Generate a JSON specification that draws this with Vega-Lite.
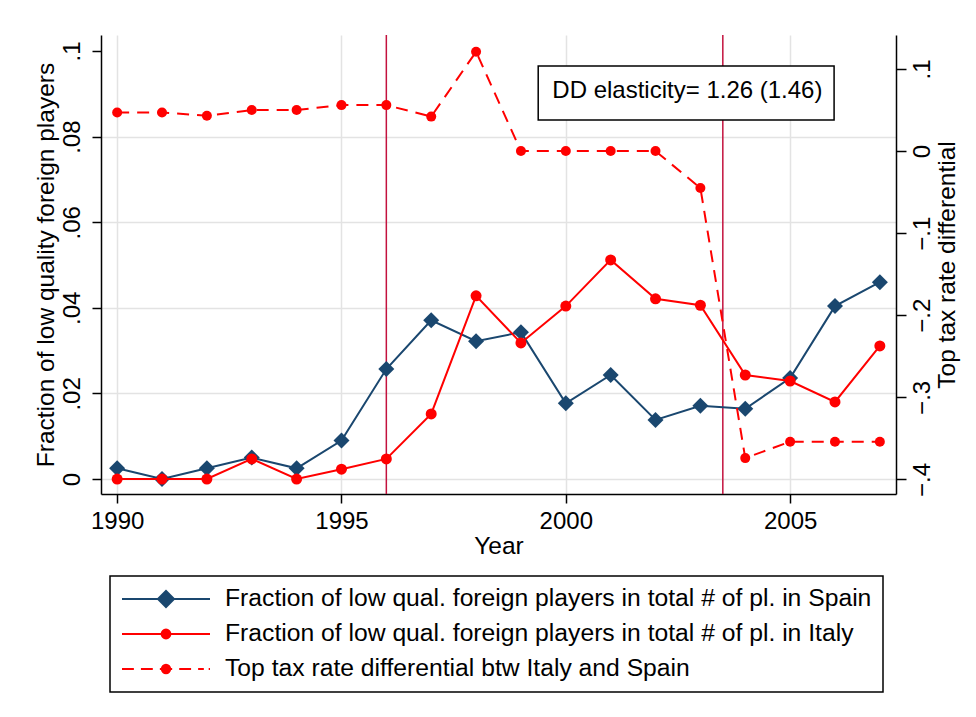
{
  "$schema": "https://vega.github.io/schema/vega-lite/v6.json",
  "width": 795,
  "height": 459,
  "autosize": {"type": "none"},
  "padding": {"left": 101, "top": 35, "right": 80, "bottom": 223},
  "background": "white",
  "config": {
    "view": {"stroke": null},
    "font": "Liberation Sans",
    "axis": {
      "domainColor": "#000", "domainWidth": 1.5, "tickColor": "#000", "tickWidth": 1.5,
      "labelColor": "#000", "labelFont": "Liberation Sans", "labelFontSize": 24,
      "titleFont": "Liberation Sans", "titleFontSize": 24.5, "titleFontWeight": "normal", "titleColor": "#000",
      "gridColor": "#e3e3e3", "gridWidth": 1.5, "labelFlush": false, "labelOverlap": false
    },
    "legend": {
      "labelFont": "Liberation Sans", "labelFontSize": 24.7, "labelColor": "#000", "labelLimit": 1000,
      "labelOffset": 14, "symbolStrokeWidth": 2, "clipHeight": 24, "rowPadding": 10, "padding": 11,
      "strokeColor": "#000", "strokeWidth": 1.5, "fillColor": "white", "symbolSize": 7744, "symbolOpacity": 1
    }
  },
  "datasets": {
    "events": [{"x": 1996}, {"x": 2003.5}],
    "box": [{"x": 1999.385, "x2": 2005.98, "y": 0.0965, "y2": 0.0839}],
    "note": [{"x": 1999.7, "y": 0.089, "label": "DD elasticity= 1.26 (1.46)"}],
    "fractions": [
      {"x": 1990, "country": "Spain", "y": 0.0025},
      {"x": 1991, "country": "Spain", "y": 0.0},
      {"x": 1992, "country": "Spain", "y": 0.0025},
      {"x": 1993, "country": "Spain", "y": 0.005},
      {"x": 1994, "country": "Spain", "y": 0.0025},
      {"x": 1995, "country": "Spain", "y": 0.009},
      {"x": 1996, "country": "Spain", "y": 0.0257},
      {"x": 1997, "country": "Spain", "y": 0.0371},
      {"x": 1998, "country": "Spain", "y": 0.0322},
      {"x": 1999, "country": "Spain", "y": 0.0343},
      {"x": 2000, "country": "Spain", "y": 0.0177},
      {"x": 2001, "country": "Spain", "y": 0.0243},
      {"x": 2002, "country": "Spain", "y": 0.0138},
      {"x": 2003, "country": "Spain", "y": 0.0171},
      {"x": 2004, "country": "Spain", "y": 0.0164},
      {"x": 2005, "country": "Spain", "y": 0.0236},
      {"x": 2006, "country": "Spain", "y": 0.0404},
      {"x": 2007, "country": "Spain", "y": 0.046},
      {"x": 1990, "country": "Italy", "y": 0.0},
      {"x": 1991, "country": "Italy", "y": 0.0},
      {"x": 1992, "country": "Italy", "y": 0.0},
      {"x": 1993, "country": "Italy", "y": 0.0047},
      {"x": 1994, "country": "Italy", "y": 0.0},
      {"x": 1995, "country": "Italy", "y": 0.0023},
      {"x": 1996, "country": "Italy", "y": 0.0047},
      {"x": 1997, "country": "Italy", "y": 0.0152},
      {"x": 1998, "country": "Italy", "y": 0.0428},
      {"x": 1999, "country": "Italy", "y": 0.0318},
      {"x": 2000, "country": "Italy", "y": 0.0404},
      {"x": 2001, "country": "Italy", "y": 0.0512},
      {"x": 2002, "country": "Italy", "y": 0.0421},
      {"x": 2003, "country": "Italy", "y": 0.0406},
      {"x": 2004, "country": "Italy", "y": 0.0243},
      {"x": 2005, "country": "Italy", "y": 0.0229},
      {"x": 2006, "country": "Italy", "y": 0.018},
      {"x": 2007, "country": "Italy", "y": 0.0311}
    ],
    "tax": [
      {"x": 1990, "t": 0.047}, {"x": 1991, "t": 0.047}, {"x": 1992, "t": 0.043},
      {"x": 1993, "t": 0.05}, {"x": 1994, "t": 0.05}, {"x": 1995, "t": 0.056},
      {"x": 1996, "t": 0.056}, {"x": 1997, "t": 0.042}, {"x": 1998, "t": 0.121},
      {"x": 1999, "t": 0.0}, {"x": 2000, "t": 0.0}, {"x": 2001, "t": 0.0},
      {"x": 2002, "t": 0.0}, {"x": 2003, "t": -0.045}, {"x": 2004, "t": -0.374},
      {"x": 2005, "t": -0.354}, {"x": 2006, "t": -0.354}, {"x": 2007, "t": -0.354}
    ],
    "keys": [
      {"series": "Fraction of low qual. foreign players in total # of pl. in Spain"},
      {"series": "Fraction of low qual. foreign players in total # of pl. in Italy"},
      {"series": "Top tax rate differential btw Italy and Spain"}
    ]
  },
  "encoding": {
    "x": {
      "field": "x", "type": "quantitative",
      "scale": {"domain": [1989.64, 2007.36], "nice": false, "zero": false},
      "axis": {
        "values": [1990, 1995, 2000, 2005], "format": "d", "grid": true, "tickSize": 9, "labelPadding": 6,
        "title": "Year", "titleBaseline": "top", "titleY": 40, "titleAlign": "center"
      }
    }
  },
  "layer": [
    {
      "data": {"name": "events"},
      "mark": {"type": "rule", "color": "#c3123e", "strokeWidth": 1.5},
      "encoding": {}
    },
    {
      "data": {"name": "fractions"},
      "encoding": {
        "y": {
          "field": "y", "type": "quantitative",
          "scale": {"domain": [-0.0035, 0.10374], "nice": false, "zero": false},
          "axis": {
            "orient": "left", "values": [0, 0.02, 0.04, 0.06, 0.08, 0.1],
            "labelExpr": "datum.value == 0 ? '0' : substring(format(datum.value, '.2~f'), 1)",
            "labelAngle": -90, "labelAlign": "center", "labelBaseline": "bottom", "labelPadding": 8, "tickSize": 9,
            "grid": true, "gridOpacity": {"condition": {"test": "datum.value > 0.09", "value": 0}, "value": 1},
            "title": "Fraction of low quality foreign players", "titleAngle": -90, "titleAlign": "center",
            "titleBaseline": "bottom", "titleX": -43, "titleY": 229.5
          }
        }
      },
      "layer": [
        {
          "data": {"name": "box"},
          "mark": {"type": "rect", "fill": "white", "stroke": "#000", "strokeWidth": 1.5},
          "encoding": {"x2": {"field": "x2"}, "y2": {"field": "y2"}}
        },
        {
          "data": {"name": "note"},
          "mark": {"type": "text", "align": "left", "baseline": "alphabetic", "fontSize": 24, "font": "Liberation Sans", "color": "#000"},
          "encoding": {"text": {"field": "label"}}
        },
        {
          "transform": [{"filter": "datum.country == 'Spain'"}],
          "mark": {"type": "line", "color": "#1a476f", "strokeWidth": 2},
          "encoding": {}
        },
        {
          "transform": [{"filter": "datum.country == 'Spain'"}],
          "mark": {"type": "point", "shape": "diamond", "filled": true, "color": "#1a476f", "size": 256, "opacity": 1},
          "encoding": {}
        },
        {
          "transform": [{"filter": "datum.country == 'Italy'"}],
          "mark": {"type": "line", "color": "#ff0000", "strokeWidth": 2},
          "encoding": {}
        },
        {
          "transform": [{"filter": "datum.country == 'Italy'"}],
          "mark": {"type": "point", "shape": "circle", "filled": true, "color": "#ff0000", "size": 121, "opacity": 1},
          "encoding": {}
        }
      ]
    },
    {
      "data": {"name": "tax"},
      "encoding": {
        "y": {
          "field": "t", "type": "quantitative",
          "scale": {"domain": [-0.4177, 0.1414], "nice": false, "zero": false},
          "axis": {
            "orient": "right", "values": [-0.4, -0.3, -0.2, -0.1, 0, 0.1],
            "labelExpr": "datum.value == 0 ? '0' : (datum.value < 0 ? '−' : '') + substring(format(abs(datum.value), '.1~f'), 1)",
            "labelAngle": -90, "labelAlign": "center", "labelBaseline": "top", "labelPadding": 4, "tickSize": 10,
            "grid": false,
            "title": "Top tax rate differential", "titleAngle": -90, "titleAlign": "center",
            "titleBaseline": "top", "titleX": 39, "titleY": 229.5
          }
        }
      },
      "layer": [
        {
          "mark": {"type": "line", "color": "#ff0000", "strokeWidth": 2, "strokeDash": [12, 8]},
          "encoding": {}
        },
        {
          "mark": {"type": "point", "shape": "circle", "filled": true, "color": "#ff0000", "size": 100, "opacity": 1},
          "encoding": {}
        }
      ]
    },
    {
      "data": {"name": "keys"},
      "mark": {"type": "point", "filled": true, "opacity": 0},
      "encoding": {
        "shape": {
          "field": "series", "type": "nominal",
          "scale": {
            "domain": [
              "Fraction of low qual. foreign players in total # of pl. in Spain",
              "Fraction of low qual. foreign players in total # of pl. in Italy",
              "Top tax rate differential btw Italy and Spain"
            ],
            "range": [
              "M-1,0H1M-0.182,0L0,-0.182L0.182,0L0,0.182Z",
              "M-1,0H1M0.1,0A0.1,0.1,0,1,1,-0.1,0A0.1,0.1,0,1,1,0.1,0Z",
              "M-1,0H-0.73M-0.57,0H-0.3M-0.14,0H0.14M0.3,0H0.57M0.73,0H0.86M0.97,0H1M0.095,0A0.095,0.095,0,1,1,-0.095,0A0.095,0.095,0,1,1,0.095,0Z"
            ]
          },
          "legend": {
            "orient": "none", "legendX": 9, "legendY": 541, "title": null, "direction": "vertical",
            "encode": {"symbols": {"update": {"opacity": {"value": 1}}}}
          }
        },
        "fill": {
          "field": "series", "type": "nominal",
          "scale": {
            "domain": [
              "Fraction of low qual. foreign players in total # of pl. in Spain",
              "Fraction of low qual. foreign players in total # of pl. in Italy",
              "Top tax rate differential btw Italy and Spain"
            ],
            "range": ["#1a476f", "#ff0000", "#ff0000"]
          },
          "legend": {"orient": "none", "legendX": 9, "legendY": 541, "title": null, "direction": "vertical"}
        },
        "stroke": {
          "field": "series", "type": "nominal",
          "scale": {
            "domain": [
              "Fraction of low qual. foreign players in total # of pl. in Spain",
              "Fraction of low qual. foreign players in total # of pl. in Italy",
              "Top tax rate differential btw Italy and Spain"
            ],
            "range": ["#1a476f", "#ff0000", "#ff0000"]
          },
          "legend": {"orient": "none", "legendX": 9, "legendY": 541, "title": null, "direction": "vertical"}
        }
      }
    }
  ],
  "resolve": {"scale": {"y": "independent"}}
}
